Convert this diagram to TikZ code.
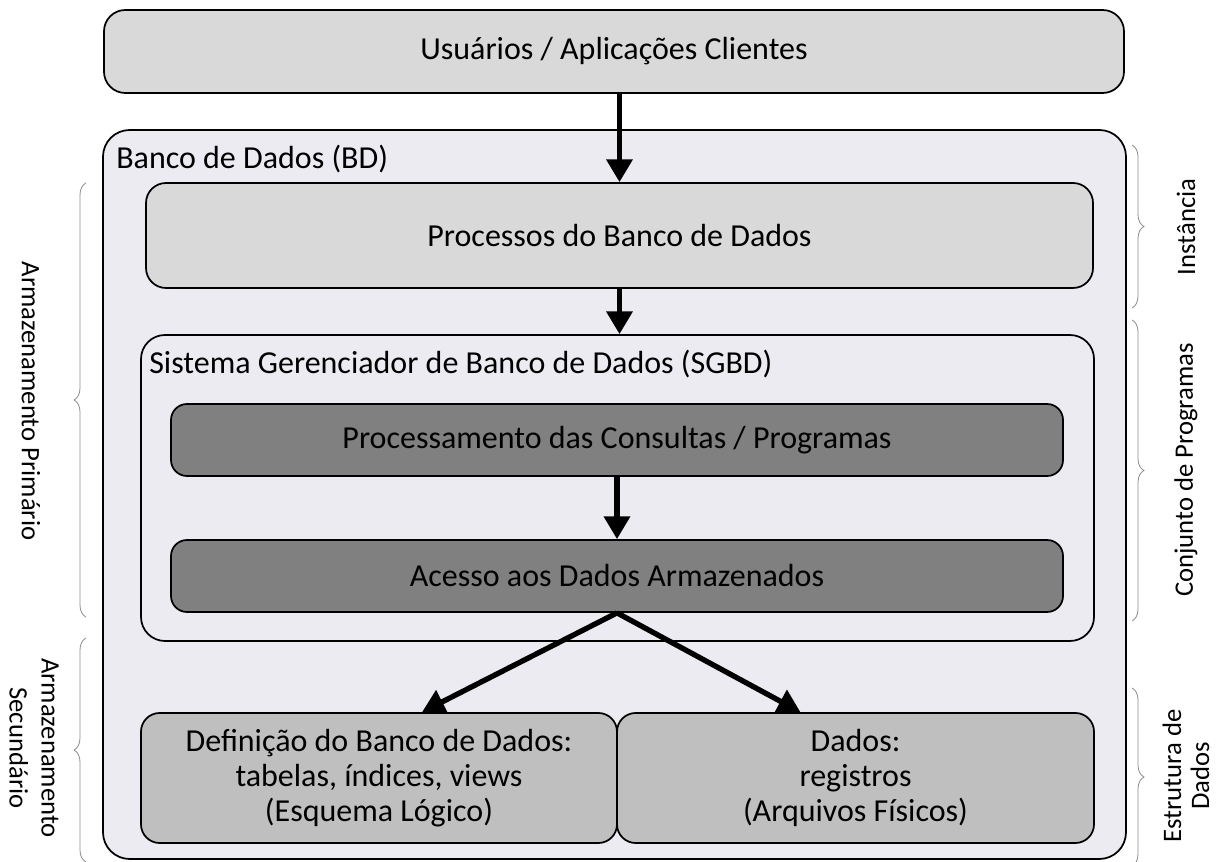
\documentclass[tikz,border=0pt]{standalone}
\usepackage{fontspec}
\setmainfont{Carlito}
\usetikzlibrary{arrows.meta,decorations.pathreplacing,calc}
\definecolor{lightbox}{HTML}{D9D9D9}
\definecolor{bdfill}{HTML}{EDEBF2}
\definecolor{darkbox}{HTML}{808080}
\definecolor{midbox}{HTML}{BFBFBF}
\definecolor{bracegray}{HTML}{8C8C8C}
\tikzset{
  box/.style={draw=black, line width=1.3pt, rectangle, inner sep=0pt, align=center, font=\fontsize{24}{26}\selectfont},
  title/.style={anchor=west, inner sep=0pt, font=\fontsize{24}{26}\selectfont},
  side/.style={inner sep=0pt, align=center, font=\fontsize{20}{21}\selectfont},
  arr/.style={line width=4pt, -{Triangle[length=17pt,width=19pt]}},
  brc/.style={draw=bracegray, line width=0.6pt, decorate, decoration={brace, amplitude=9pt}},
}
\begin{document}
\begin{tikzpicture}[x=0.75pt, y=-0.75pt]
\useasboundingbox (0,0) rectangle (1218,862);
% boxes
\node[box, fill=lightbox, rounded corners=16pt, minimum width=1020*0.75pt, minimum height=83*0.75pt] (usr) at (614,51.5) {Usuários / Aplicações Clientes};
\node[box, fill=bdfill, rounded corners=20pt, minimum width=1023*0.75pt, minimum height=729*0.75pt] (bd) at (614.5,494.5) {};
\node[title] (bdt) at (116,159) {Banco de Dados (BD)};
\node[box, fill=lightbox, rounded corners=15pt, minimum width=947*0.75pt, minimum height=105*0.75pt] (proc) at (619.5,235.5) {Processos do Banco de Dados};
\node[box, fill=bdfill, rounded corners=18pt, minimum width=953*0.75pt, minimum height=306*0.75pt] (sgbd) at (617.5,488) {};
\node[title] (sgbdt) at (149,364) {Sistema Gerenciador de Banco de Dados (SGBD)};
\node[box, fill=darkbox, rounded corners=12pt, minimum width=892*0.75pt, minimum height=72*0.75pt] (pq) at (617,440) {Processamento das Consultas / Programas};
\node[box, fill=darkbox, rounded corners=12pt, minimum width=892*0.75pt, minimum height=72*0.75pt] (ac) at (617,576) {Acesso aos Dados Armazenados};
\node[box, fill=midbox, rounded corners=14pt, minimum width=476*0.75pt, minimum height=130*0.75pt] (def) at (379,778) {Definição do Banco de Dados:\\tabelas, índices, views\\(Esquema Lógico)};
\node[box, fill=midbox, rounded corners=14pt, minimum width=477*0.75pt, minimum height=130*0.75pt] (dad) at (855.5,778) {Dados:\\registros\\(Arquivos Físicos)};
% arrows
\draw[arr] (usr.south -| proc.north) -- (proc.north);
\draw[arr] (proc.south) -- (proc.south |- sgbd.north);
\draw[arr] (pq.south) -- (ac.north);
\draw[arr] (ac.south) -- ($(def.north west)!0.59!(def.north east)$);
\draw[arr] (ac.south) -- ($(dad.north west)!0.385!(dad.north east)$);
% braces
\coordinate (lp1) at (86,617); \coordinate (lp2) at (86,183);
\coordinate (ls1) at (86,862); \coordinate (ls2) at (86,638);
\coordinate (ri1) at (1132,145); \coordinate (ri2) at (1132,308);
\coordinate (rc1) at (1132,320); \coordinate (rc2) at (1132,621);
\coordinate (re1) at (1132,688); \coordinate (re2) at (1132,866);
\draw[brc] (lp1) -- (lp2);
\draw[brc] (ls1) -- (ls2);
\draw[brc] (ri1) -- (ri2);
\draw[brc] (rc1) -- (rc2);
\draw[brc] (re1) -- (re2);
% side labels
\node[side, rotate=-90] (lpt) at (31,401) {Armazenamento Primário};
\node[side, rotate=-90, font=\fontsize{20}{24}\selectfont] (lst) at (34,748) {Armazenamento\\Secundário};
\node[side, rotate=90] (rit) at (1186,227) {Instância};
\node[side, rotate=90] (rct) at (1186,470) {Conjunto de Programas};
\node[side, rotate=90] (ret) at (1186,776) {Estrutura de\\Dados};
\end{tikzpicture}
\end{document}
